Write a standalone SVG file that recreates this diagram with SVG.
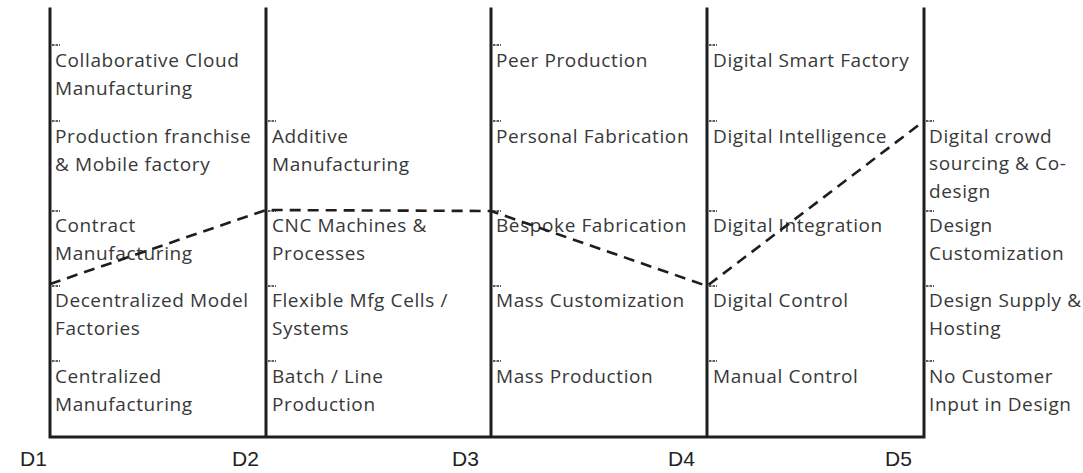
<svg xmlns="http://www.w3.org/2000/svg" width="1083" height="473" viewBox="0 0 1083 473">
<style>
.axis{stroke:#1e1e1e;stroke-width:3;fill:none;stroke-linecap:square}
.tick{stroke:#2a2a2a;stroke-width:1.5;stroke-dasharray:2.5 1;fill:none}
.lbl{font-family:"Open Sans","Noto Sans",sans-serif;font-size:19px;letter-spacing:0.6px;fill:#383838}
.d{font-family:"Liberation Sans",Arial,sans-serif;font-size:21px;fill:#222}
.path{stroke:#1e1e1e;stroke-width:2.6;stroke-dasharray:11 7;fill:none}
</style>
<rect width="1083" height="473" fill="#fff"/>
<g id="axes">
<path class="axis" d="M50 9V437H924V9M266 9V437M491 9V437M707 9V437"/>
</g>
<g id="col-D1">
<path class="tick" d="M52 45h8M52 121h8M52 211h8M52 286h8M52 361h8"/>
<text class="lbl" x="55" y="67">Collaborative Cloud</text>
<text class="lbl" x="55" y="95">Manufacturing</text>
<text class="lbl" x="55" y="143">Production franchise</text>
<text class="lbl" x="55" y="171">&amp; Mobile factory</text>
<text class="lbl" x="55" y="232">Contract</text>
<text class="lbl" x="55" y="260">Manufacturing</text>
<text class="lbl" x="55" y="307">Decentralized Model</text>
<text class="lbl" x="55" y="335">Factories</text>
<text class="lbl" x="55" y="383">Centralized</text>
<text class="lbl" x="55" y="411">Manufacturing</text>
</g>
<g id="col-D2">
<path class="tick" d="M268 121h8M268 211h8M268 286h8M268 361h8"/>
<text class="lbl" x="272" y="143">Additive</text>
<text class="lbl" x="272" y="171">Manufacturing</text>
<text class="lbl" x="272" y="232">CNC Machines &amp;</text>
<text class="lbl" x="272" y="260">Processes</text>
<text class="lbl" x="272" y="307">Flexible Mfg Cells /</text>
<text class="lbl" x="272" y="335">Systems</text>
<text class="lbl" x="272" y="383">Batch / Line</text>
<text class="lbl" x="272" y="411">Production</text>
</g>
<g id="col-D3">
<path class="tick" d="M493 45h8M493 121h8M493 211h8M493 286h8M493 361h8"/>
<text class="lbl" x="496" y="67">Peer Production</text>
<text class="lbl" x="496" y="143">Personal Fabrication</text>
<text class="lbl" x="496" y="232">Bespoke Fabrication</text>
<text class="lbl" x="496" y="307">Mass Customization</text>
<text class="lbl" x="496" y="383">Mass Production</text>
</g>
<g id="col-D4">
<path class="tick" d="M709 45h8M709 121h8M709 211h8M709 286h8M709 361h8"/>
<text class="lbl" x="713" y="67">Digital Smart Factory</text>
<text class="lbl" x="713" y="143">Digital Intelligence</text>
<text class="lbl" x="713" y="232">Digital Integration</text>
<text class="lbl" x="713" y="307">Digital Control</text>
<text class="lbl" x="713" y="383">Manual Control</text>
</g>
<g id="col-D5">
<path class="tick" d="M926 121h8M926 211h8M926 286h8M926 361h8"/>
<text class="lbl" x="929" y="143">Digital crowd</text>
<text class="lbl" x="929" y="170">sourcing &amp; Co-</text>
<text class="lbl" x="929" y="198">design</text>
<text class="lbl" x="929" y="232">Design</text>
<text class="lbl" x="929" y="260">Customization</text>
<text class="lbl" x="929" y="307">Design Supply &amp;</text>
<text class="lbl" x="929" y="335">Hosting</text>
<text class="lbl" x="929" y="383">No Customer</text>
<text class="lbl" x="929" y="411">Input in Design</text>
</g>
<g id="dim-labels">
<text class="d" x="20" y="466">D1</text>
<text class="d" x="232" y="466">D2</text>
<text class="d" x="452" y="466">D3</text>
<text class="d" x="668" y="466">D4</text>
<text class="d" x="885" y="466">D5</text>
</g>
<g id="connectors">
<polyline class="path" points="50,284 266,210 491,211 707,286 924,121"/>
</g>
</svg>
